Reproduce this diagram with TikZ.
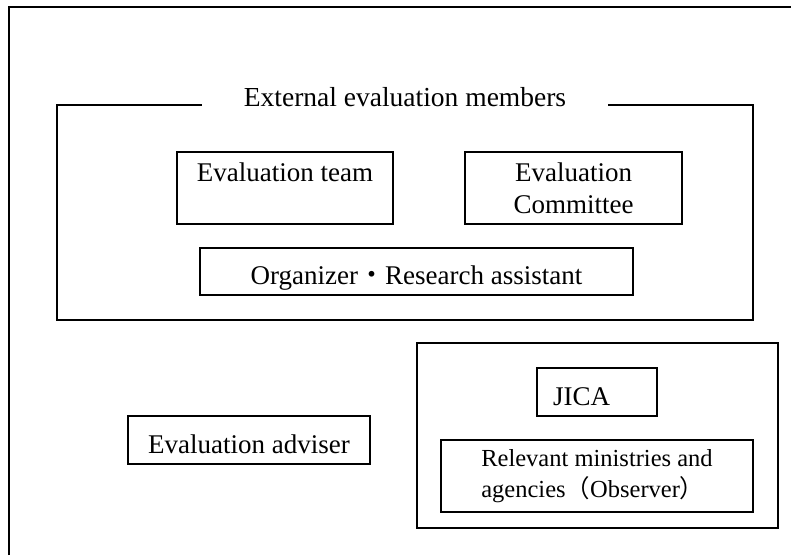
\documentclass[tikz,border=0pt]{standalone}
\usepackage{fontspec}
\setmainfont{Liberation Serif}
\newfontfamily\cjk{Noto Sans CJK JP}
\begin{document}
\begin{tikzpicture}[x=1pt,y=-1pt,
  frameline/.style={line width=1.6pt},
  box/.style={draw, line width=1.6pt, inner sep=0pt, align=center,
    font=\fontsize{27}{32}\selectfont},
  onebox/.style={box, text height=26pt, text depth=0pt},
  smallbox/.style={box, align=left, font=\fontsize{24.5}{31}\selectfont}]
\useasboundingbox (0,0) rectangle (791,555);

% outer frame (open to the right and bottom)
\draw[frameline] (9,555) -- (9,7) -- (791,7);

% external evaluation members group
\node[inner xsep=42pt, inner ysep=0pt, font=\fontsize{27.5}{32}\selectfont]
  (ext) at (405,96.6) {External evaluation members};
\draw[frameline] (ext.west |- 0,105) -- (57,105) -- (57,320)
  -- (753,320) -- (753,105) -- (ext.east |- 0,105);

\node[box, minimum width=216pt, minimum height=72pt] (team) at (285,188)
  {Evaluation team\\\phantom{C}};
\node[box, minimum width=217pt, minimum height=72pt] (committee) at (573.5,188)
  {Evaluation\\Committee};
\node[onebox, minimum width=433pt, minimum height=47pt] (org) at (416.5,271.5)
  {Organizer{\cjk ・}Research assistant};

% adviser
\node[onebox, minimum width=242pt, minimum height=48pt] (adviser) at (249,440)
  {Evaluation adviser};

% JICA group
\draw[frameline] (417,343) rectangle (778,528);
\node[onebox, minimum width=120pt, minimum height=48pt] (jica) at (597,392)
  {JICA\hspace{31pt}};
\node[smallbox, minimum width=312pt, minimum height=72pt] (ministries) at (597,476)
  {Relevant ministries and\\agencies{\cjk （}Observer{\cjk ）}};
\end{tikzpicture}
\end{document}
